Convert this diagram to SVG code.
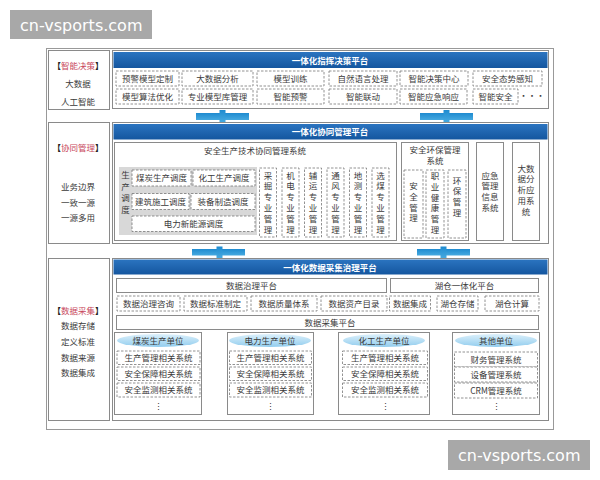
<svg xmlns="http://www.w3.org/2000/svg" width="600" height="480" viewBox="0 0 600 480">
<defs>
<linearGradient id="hdr" x1="0" y1="0" x2="0" y2="1"><stop offset="0" stop-color="#2b74c0"/><stop offset="1" stop-color="#14569f"/></linearGradient>
<linearGradient id="ell" x1="0" y1="0" x2="0" y2="1"><stop offset="0" stop-color="#dcf0fb"/><stop offset="1" stop-color="#92cdee"/></linearGradient>
<linearGradient id="con" x1="0" y1="0" x2="0" y2="1"><stop offset="0" stop-color="#1f8bd0"/><stop offset="1" stop-color="#45a9e0"/></linearGradient>
</defs>
<style>
.t{font-family:"Noto Sans CJK SC","Liberation Serif",serif;font-size:8.5px;fill:#3a3a3a;text-anchor:middle}
.h{font-family:"Noto Sans CJK SC","Liberation Sans",sans-serif;font-size:8.5px;font-weight:bold;fill:#fff;text-anchor:middle}
.r{fill:#c8485c}
.k{font-weight:bold;fill:#222}
.box{fill:#fff;stroke:#8a8a8a;stroke-width:1}
.dash{fill:#fff;stroke:#777;stroke-width:0.8;stroke-dasharray:2.5 1.5}
.bar{fill:url(#hdr)}
.con{fill:url(#con)}
.ell{fill:url(#ell)}
.wmb{fill:#a8a8a8}
.wm{font-family:"DejaVu Sans",sans-serif;font-size:16px;fill:#fff}
</style>
<rect width="600" height="480" fill="#fff"/>
<rect x="46.5" y="48.5" width="507" height="381" fill="none" stroke="#999" stroke-width="1"/>

<!-- Row 1 -->
<g id="label-row1">
<rect class="box" x="48.5" y="50.5" width="61" height="59"/>
<text class="t" x="78" y="68.5"><tspan class="k">【</tspan><tspan class="r">智能决策</tspan><tspan class="k">】</tspan></text>
<text class="t" x="78" y="86.5">大数据</text>
<text class="t" x="78" y="105">人工智能</text>
</g>
<g id="platform-decision">
<rect class="box" x="112.5" y="50.5" width="436" height="58"/>
<rect class="bar" x="113.5" y="52" width="434" height="16"/>
<text class="h" x="330" y="63.5">一体化指挥决策平台</text>
<rect class="dash" x="116" y="71" width="63" height="15"/><text class="t" x="147.5" y="81.5">预警模型定制</text>
<rect class="dash" x="182" y="71" width="71" height="15"/><text class="t" x="217.5" y="81.5">大数据分析</text>
<rect class="dash" x="257" y="71" width="67" height="15"/><text class="t" x="290.5" y="81.5">模型训练</text>
<rect class="dash" x="329" y="71" width="68" height="15"/><text class="t" x="363" y="81.5">自然语言处理</text>
<rect class="dash" x="400" y="71" width="68" height="15"/><text class="t" x="434" y="81.5">智能决策中心</text>
<rect class="dash" x="473" y="71" width="69" height="15"/><text class="t" x="507.5" y="81.5">安全态势感知</text>
<rect class="dash" x="116" y="89" width="63" height="15"/><text class="t" x="147.5" y="99.5">模型算法优化</text>
<rect class="dash" x="182" y="89" width="71" height="15"/><text class="t" x="217.5" y="99.5">专业模型库管理</text>
<rect class="dash" x="257" y="89" width="67" height="15"/><text class="t" x="290.5" y="99.5">智能预警</text>
<rect class="dash" x="329" y="89" width="68" height="15"/><text class="t" x="363" y="99.5">智能联动</text>
<rect class="dash" x="400" y="89" width="67" height="15"/><text class="t" x="433.5" y="99.5">智能应急响应</text>
<rect class="dash" x="473" y="89" width="45" height="15"/><text class="t" x="495.5" y="99.5">智能安全</text>
<text class="t" x="532" y="99">···</text>
</g>

<!-- Row 2 -->
<g id="label-row2">
<rect class="box" x="48.5" y="122.5" width="61" height="121"/>
<text class="t" x="78" y="151"><tspan class="k">【</tspan><tspan class="r">协同管理</tspan><tspan class="k">】</tspan></text>
<text class="t" x="78" y="190">业务边界</text>
<text class="t" x="78" y="205.5">一致一源</text>
<text class="t" x="78" y="221">一源多用</text>
</g>
<g id="platform-collab">
<rect class="box" x="112.5" y="122.5" width="436" height="121"/>
<rect class="bar" x="113.5" y="124" width="434" height="15.5"/>
<text class="h" x="330" y="135">一体化协同管理平台</text>
</g>
<g id="sys-tech">
<rect class="box" x="114.5" y="142.5" width="282" height="98"/>
<text class="t" x="255" y="153.5">安全生产技术协同管理系统</text>
<rect x="119" y="167" width="138" height="68" fill="#d8d8d8"/>
<text class="t" x="125.5" y="178"><tspan x="125.5" dy="0">生</tspan><tspan x="125.5" dy="11.5">产</tspan><tspan x="125.5" dy="11.5">调</tspan><tspan x="125.5" dy="11.5">度</tspan></text>
<rect class="dash" x="132" y="170" width="59" height="16"/><text class="t" x="161.5" y="181">煤炭生产调度</text>
<rect class="dash" x="193" y="170" width="62" height="16"/><text class="t" x="224" y="181">化工生产调度</text>
<rect class="dash" x="132" y="193.5" width="57" height="16"/><text class="t" x="160.5" y="204.5">建筑施工调度</text>
<rect class="dash" x="191" y="193.5" width="64" height="16"/><text class="t" x="223" y="204.5">装备制造调度</text>
<rect class="dash" x="132" y="216" width="123" height="15.5"/><text class="t" x="193.5" y="226.8">电力新能源调度</text>
<rect class="dash" x="259.5" y="168" width="17" height="69"/>
<text class="t" x="268" y="178.5"><tspan x="268" dy="0">采</tspan><tspan x="268" dy="10.8">掘</tspan><tspan x="268" dy="10.8">专</tspan><tspan x="268" dy="10.8">业</tspan><tspan x="268" dy="10.8">管</tspan><tspan x="268" dy="10.8">理</tspan></text>
<rect class="dash" x="282" y="168" width="17" height="69"/>
<text class="t" x="290.5" y="178.5"><tspan x="290.5" dy="0">机</tspan><tspan x="290.5" dy="10.8">电</tspan><tspan x="290.5" dy="10.8">专</tspan><tspan x="290.5" dy="10.8">业</tspan><tspan x="290.5" dy="10.8">管</tspan><tspan x="290.5" dy="10.8">理</tspan></text>
<rect class="dash" x="304.5" y="168" width="17" height="69"/>
<text class="t" x="313" y="178.5"><tspan x="313" dy="0">辅</tspan><tspan x="313" dy="10.8">运</tspan><tspan x="313" dy="10.8">专</tspan><tspan x="313" dy="10.8">业</tspan><tspan x="313" dy="10.8">管</tspan><tspan x="313" dy="10.8">理</tspan></text>
<rect class="dash" x="327" y="168" width="17" height="69"/>
<text class="t" x="335.5" y="178.5"><tspan x="335.5" dy="0">通</tspan><tspan x="335.5" dy="10.8">风</tspan><tspan x="335.5" dy="10.8">专</tspan><tspan x="335.5" dy="10.8">业</tspan><tspan x="335.5" dy="10.8">管</tspan><tspan x="335.5" dy="10.8">理</tspan></text>
<rect class="dash" x="349.5" y="168" width="17" height="69"/>
<text class="t" x="358" y="178.5"><tspan x="358" dy="0">地</tspan><tspan x="358" dy="10.8">测</tspan><tspan x="358" dy="10.8">专</tspan><tspan x="358" dy="10.8">业</tspan><tspan x="358" dy="10.8">管</tspan><tspan x="358" dy="10.8">理</tspan></text>
<rect class="dash" x="372" y="168" width="17" height="69"/>
<text class="t" x="380.5" y="178.5"><tspan x="380.5" dy="0">选</tspan><tspan x="380.5" dy="10.8">煤</tspan><tspan x="380.5" dy="10.8">专</tspan><tspan x="380.5" dy="10.8">业</tspan><tspan x="380.5" dy="10.8">管</tspan><tspan x="380.5" dy="10.8">理</tspan></text>
</g>
<g id="sys-env">
<rect class="box" x="401.5" y="142.5" width="67" height="98"/>
<text class="t" x="435" y="152.5"><tspan x="435" dy="0">安全环保管理</tspan><tspan x="435" dy="11">系统</tspan></text>
<rect class="dash" x="404" y="170" width="19" height="68"/>
<text class="t" x="413.5" y="189"><tspan x="413.5" dy="0">安</tspan><tspan x="413.5" dy="10.8">全</tspan><tspan x="413.5" dy="10.8">管</tspan><tspan x="413.5" dy="10.8">理</tspan></text>
<rect class="dash" x="426" y="170" width="18" height="68"/>
<text class="t" x="435" y="179"><tspan x="435" dy="0">职</tspan><tspan x="435" dy="10.8">业</tspan><tspan x="435" dy="10.8">健</tspan><tspan x="435" dy="10.8">康</tspan><tspan x="435" dy="10.8">管</tspan><tspan x="435" dy="10.8">理</tspan></text>
<rect class="dash" x="448" y="170" width="18" height="68"/>
<text class="t" x="457" y="183.5"><tspan x="457" dy="0">环</tspan><tspan x="457" dy="10.8">保</tspan><tspan x="457" dy="10.8">管</tspan><tspan x="457" dy="10.8">理</tspan></text>
</g>
<g id="sys-emergency">
<rect class="box" x="476.5" y="142.5" width="27" height="98"/>
<text class="t" x="490" y="178.5"><tspan x="490" dy="0">应急</tspan><tspan x="490" dy="10.8">管理</tspan><tspan x="490" dy="10.8">信息</tspan><tspan x="490" dy="10.8">系统</tspan></text>
</g>
<g id="sys-bigdata">
<rect class="box" x="512.5" y="142.5" width="27" height="98"/>
<text class="t" x="526" y="171.5"><tspan x="526" dy="0">大数</tspan><tspan x="526" dy="10.8">据分</tspan><tspan x="526" dy="10.8">析应</tspan><tspan x="526" dy="10.8">用系</tspan><tspan x="526" dy="10.8">统</tspan></text>
</g>

<!-- Row 3 -->
<g id="label-row3">
<rect class="box" x="48.5" y="258.5" width="61" height="162"/>
<text class="t" x="78" y="313.5"><tspan class="k">【</tspan><tspan class="r">数据采集</tspan><tspan class="k">】</tspan></text>
<text class="t" x="78" y="328.5">数据存储</text>
<text class="t" x="78" y="344.5">定义标准</text>
<text class="t" x="78" y="360.5">数据来源</text>
<text class="t" x="78" y="375.5">数据集成</text>
</g>
<g id="platform-data">
<rect class="box" x="112.5" y="258.5" width="436" height="162"/>
<rect class="bar" x="113.5" y="259.5" width="434" height="15"/>
<text class="h" x="330" y="270.5">一体化数据采集治理平台</text>
<rect class="box" x="116.5" y="278.5" width="270" height="14"/><text class="t" x="251.5" y="288.8">数据治理平台</text>
<rect class="box" x="390.5" y="278.5" width="148" height="14"/><text class="t" x="464.5" y="288.8">湖仓一体化平台</text>
<rect class="dash" x="117" y="296" width="63" height="15"/><text class="t" x="148.5" y="306.5">数据治理咨询</text>
<rect class="dash" x="184" y="296" width="63" height="15"/><text class="t" x="215.5" y="306.5">数据标准制定</text>
<rect class="dash" x="251" y="296" width="66" height="15"/><text class="t" x="284" y="306.5">数据质量体系</text>
<rect class="dash" x="321" y="296" width="66" height="15"/><text class="t" x="354" y="306.5">数据资产目录</text>
<rect class="dash" x="389.5" y="296" width="41" height="15"/><text class="t" x="410" y="306.5">数据集成</text>
<rect class="dash" x="437" y="296" width="41" height="15"/><text class="t" x="457.5" y="306.5">湖仓存储</text>
<rect class="dash" x="485" y="296" width="54" height="15"/><text class="t" x="512" y="306.5">湖仓计算</text>
<rect class="box" x="116.5" y="315.5" width="422" height="14"/><text class="t" x="330" y="325.8">数据采集平台</text>
</g>
<g id="unit-coal">
<rect class="box" x="114.5" y="332.5" width="87" height="82"/>
<ellipse class="ell" cx="158" cy="340.5" rx="41" ry="6.5"/>
<text class="t" x="158" y="343.5">煤炭生产单位</text>
<rect class="dash" x="117" y="351" width="83" height="13.5"/><text class="t" x="158.5" y="361">生产管理相关系统</text>
<rect class="dash" x="117" y="367" width="83" height="13.5"/><text class="t" x="158.5" y="377">安全保障相关系统</text>
<rect class="dash" x="117" y="383" width="83" height="14"/><text class="t" x="158.5" y="393.3">安全监测相关系统</text>
<text class="t" x="158.5" y="410">⋮</text>
</g>
<g id="unit-power">
<rect class="box" x="227.5" y="332.5" width="86" height="82"/>
<ellipse class="ell" cx="270" cy="340.5" rx="41" ry="6.5"/>
<text class="t" x="270" y="343.5">电力生产单位</text>
<rect class="dash" x="229.5" y="351" width="82" height="13.5"/><text class="t" x="270.5" y="361">生产管理相关系统</text>
<rect class="dash" x="229.5" y="367" width="82" height="13.5"/><text class="t" x="270.5" y="377">安全保障相关系统</text>
<rect class="dash" x="229.5" y="383" width="82" height="14"/><text class="t" x="270.5" y="393.3">安全监测相关系统</text>
<text class="t" x="270.5" y="410">⋮</text>
</g>
<g id="unit-chem">
<rect class="box" x="338.5" y="332.5" width="91" height="82"/>
<ellipse class="ell" cx="384" cy="340.5" rx="41" ry="6.5"/>
<text class="t" x="384" y="343.5">化工生产单位</text>
<rect class="dash" x="342.5" y="351" width="85" height="13.5"/><text class="t" x="385" y="361">生产管理相关系统</text>
<rect class="dash" x="342.5" y="367" width="85" height="13.5"/><text class="t" x="385" y="377">安全保障相关系统</text>
<rect class="dash" x="342.5" y="383" width="85" height="14"/><text class="t" x="385" y="393.3">安全监测相关系统</text>
<text class="t" x="385" y="410">⋮</text>
</g>
<g id="unit-other">
<rect class="box" x="452.5" y="332.5" width="87" height="82"/>
<ellipse class="ell" cx="496" cy="340.5" rx="41" ry="6.5"/>
<text class="t" x="496" y="343.5">其他单位</text>
<rect class="dash" x="454.5" y="352" width="83" height="15"/><text class="t" x="496" y="362.5">财务管理系统</text>
<rect class="dash" x="454.5" y="367" width="83" height="15"/><text class="t" x="496" y="377.5">设备管理系统</text>
<rect class="dash" x="454.5" y="383" width="83" height="15"/><text class="t" x="496" y="393.5">CRM管理系统</text>
<text class="t" x="496" y="410">⋮</text>
</g>

<!-- Connectors -->
<g id="connectors">
<rect class="con" x="196" y="113" width="53" height="7"/><rect class="con" x="219.5" y="110" width="6" height="12"/>
<rect class="con" x="420" y="113" width="53" height="7"/><rect class="con" x="443.5" y="110" width="6" height="12"/>
<rect class="con" x="192" y="249" width="53" height="6.5"/><rect class="con" x="216.5" y="246.5" width="6" height="11.5"/>
<rect class="con" x="417" y="249" width="53" height="6.5"/><rect class="con" x="440.5" y="246.5" width="6" height="11.5"/>
</g>

<g id="watermarks">
<rect class="wmb" x="10" y="10" width="142" height="29"/>
<text class="wm" x="20" y="30.5">cn-vsports.com</text>
<rect class="wmb" x="448" y="440" width="142" height="30"/>
<text class="wm" x="458" y="460.5">cn-vsports.com</text>
</g>
</svg>
